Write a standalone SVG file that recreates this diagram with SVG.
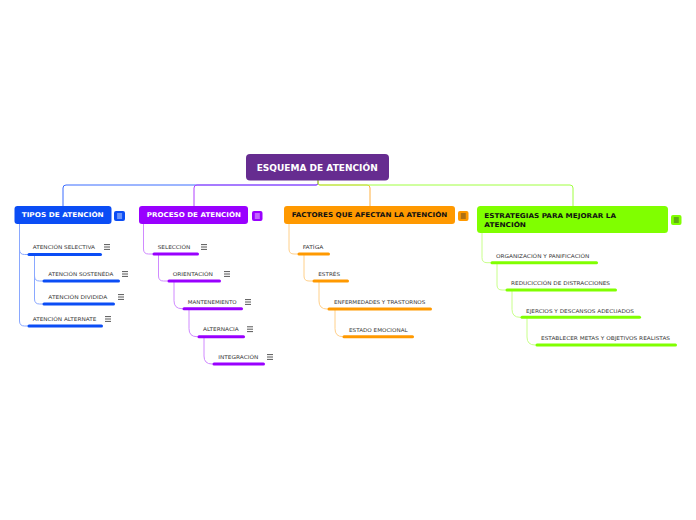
<svg xmlns="http://www.w3.org/2000/svg" xmlns:xlink="http://www.w3.org/1999/xlink" width="696" height="520" viewBox="0 0 696 520">
<style>
.hd{font-family:"DejaVu Sans","Liberation Sans",sans-serif;font-weight:bold;font-size:6.6px}
.rt{font-family:"DejaVu Sans","Liberation Sans",sans-serif;font-weight:bold;font-size:8.4px;fill:#fff}
.st{font-family:"DejaVu Sans","Liberation Sans",sans-serif;font-size:5.2px;fill:#333}
.c{fill:none;stroke-width:1}
.bar{stroke-width:3;stroke-linecap:round}
.hm{stroke:#444;stroke-width:0.9}
.hw{stroke:#fff;stroke-width:0.8}
.hk{stroke:#333;stroke-width:0.8}
</style>
<defs>
<g id="ham"><line x1="0" y1="0" x2="6" y2="0"/><line x1="0" y1="2.4" x2="6" y2="2.4"/><line x1="0" y1="4.8" x2="6" y2="4.8"/></g>
<g id="hamb"><line x1="2.6" y1="3" x2="7.6" y2="3"/><line x1="2.6" y1="5" x2="7.6" y2="5"/><line x1="2.6" y1="7" x2="7.6" y2="7"/></g>
</defs>
<rect width="696" height="520" fill="#fff"/>
<g id="connectors">
<path class="c" stroke="#3a6cff" d="M318,180 V183 Q318,185 316,185 H66 Q63,185 63,188 V206"/>
<path class="c" stroke="#b040ff" d="M318,180 V183 Q318,185 316,185 H197 Q194,185 194,188 V206"/>
<path class="c" stroke="#ffb040" d="M318,180 V183 Q318,185 320,185 H367 Q370,185 370,188 V206"/>
<path class="c" stroke="#a0ff40" d="M318,180 V183 Q318,185 320,185 H570 Q573,185 573,188 V206"/>
<g stroke="#8aa8ff">
<path class="c" d="M19.5,224 V249.5 Q19.5,254.5 24.5,254.5 H28"/>
<path class="c" d="M19.5,224 V321 Q19.5,326 24.5,326 H28"/>
<path class="c" d="M34.5,255 V276 Q34.5,281 39.5,281 H43"/>
<path class="c" d="M34.5,255 V299 Q34.5,304 39.5,304 H43"/>
</g>
<g stroke="#d08aff">
<path class="c" d="M143.5,224 V249 Q143.5,254 148.5,254 H153"/>
<path class="c" d="M158.5,255 V276 Q158.5,281 163.5,281 H168"/>
<path class="c" d="M174,282 V300.7 Q174,308.7 182,308.7 H183"/>
<path class="c" d="M189,310 V328.7 Q189,336.7 197,336.7 H198"/>
<path class="c" d="M204,338 V356 Q204,364 212,364 H213"/>
</g>
<g stroke="#ffd08a">
<path class="c" d="M289,224 V249 Q289,254 294,254 H298"/>
<path class="c" d="M304,255 V276 Q304,281 309,281 H313"/>
<path class="c" d="M319,282 V301 Q319,309 327,309 H328"/>
<path class="c" d="M335,310 V328.7 Q335,336.7 343,336.7"/>
</g>
<g stroke="#c8ff8a">
<path class="c" d="M482,233 V257.7 Q482,262.7 487,262.7 H491"/>
<path class="c" d="M497,264 V285 Q497,290 502,290 H506"/>
<path class="c" d="M512,291 V309.3 Q512,317.3 520,317.3 H521"/>
<path class="c" d="M527,318 V337 Q527,345 535,345 H536"/>
</g>
</g>
<g id="root">
<rect x="246" y="154" width="143" height="26.5" rx="4" fill="#662c90"/>
<text class="rt" x="256.7" y="171" textLength="121" lengthAdjust="spacingAndGlyphs">ESQUEMA DE ATENCIÓN</text>
</g>
<g id="tipos">
<rect x="14.5" y="206" width="97" height="18" rx="3" fill="#0b4df5"/>
<text class="hd" fill="#fff" x="21.7" y="217.4" textLength="82" lengthAdjust="spacingAndGlyphs">TIPOS DE ATENCIÓN</text>
<rect x="114" y="211" width="11" height="10" rx="2" fill="#0b4df5"/>
<use xlink:href="#hamb" class="hw" x="114.5" y="211"/>
</g>
<g id="t1">
<text class="st" x="32.7" y="248.6" textLength="62.3" lengthAdjust="spacingAndGlyphs">ATENCIÓN SELECTIVA</text>
<line class="bar" stroke="#0b4df5" x1="29" y1="254.5" x2="100.5" y2="254.5"/>
<use xlink:href="#ham" class="hm" x="104" y="244.6"/>
</g>
<g id="t2">
<text class="st" x="48.3" y="275.6" textLength="65" lengthAdjust="spacingAndGlyphs">ATENCIÓN SOSTENÉDA</text>
<line class="bar" stroke="#0b4df5" x1="44" y1="281" x2="118.5" y2="281"/>
<use xlink:href="#ham" class="hm" x="122" y="271.6"/>
</g>
<g id="t3">
<text class="st" x="48.3" y="299" textLength="59" lengthAdjust="spacingAndGlyphs">ATENCIÓN DIVIDIDA</text>
<line class="bar" stroke="#0b4df5" x1="44" y1="304" x2="113.5" y2="304"/>
<use xlink:href="#ham" class="hm" x="118" y="294.6"/>
</g>
<g id="t4">
<text class="st" x="32.7" y="320.6" textLength="63.6" lengthAdjust="spacingAndGlyphs">ATENCIÓN ALTERNATE</text>
<line class="bar" stroke="#0b4df5" x1="29" y1="326" x2="101.5" y2="326"/>
<use xlink:href="#ham" class="hm" x="105" y="316.6"/>
</g>
<g id="proceso">
<rect x="139" y="206" width="109" height="18" rx="3" fill="#9900ff"/>
<text class="hd" fill="#fff" x="146.7" y="217.4" textLength="94.3" lengthAdjust="spacingAndGlyphs">PROCESO DE ATENCIÓN</text>
<rect x="252" y="211" width="10.5" height="10" rx="2" fill="#9900ff"/>
<use xlink:href="#hamb" class="hw" x="252.2" y="211"/>
</g>
<g id="p1">
<text class="st" x="157.7" y="248.6" textLength="32.7" lengthAdjust="spacingAndGlyphs">SELECCIÓN</text>
<line class="bar" stroke="#9900ff" x1="154" y1="254" x2="197.5" y2="254"/>
<use xlink:href="#ham" class="hm" x="201" y="244.6"/>
</g>
<g id="p2">
<text class="st" x="172.7" y="275.6" textLength="40.3" lengthAdjust="spacingAndGlyphs">ORIENTACIÓN</text>
<line class="bar" stroke="#9900ff" x1="169" y1="281" x2="219.5" y2="281"/>
<use xlink:href="#ham" class="hm" x="224" y="271.6"/>
</g>
<g id="p3">
<text class="st" x="187.7" y="303.6" textLength="49" lengthAdjust="spacingAndGlyphs">MANTENEMIENTO</text>
<line class="bar" stroke="#9900ff" x1="184" y1="308.7" x2="241.5" y2="308.7"/>
<use xlink:href="#ham" class="hm" x="245" y="299.6"/>
</g>
<g id="p4">
<text class="st" x="203" y="331" textLength="35.7" lengthAdjust="spacingAndGlyphs">ALTERNACIA</text>
<line class="bar" stroke="#9900ff" x1="199" y1="336.7" x2="243.5" y2="336.7"/>
<use xlink:href="#ham" class="hm" x="247" y="326.8"/>
</g>
<g id="p5">
<text class="st" x="218.3" y="358.6" textLength="40" lengthAdjust="spacingAndGlyphs">INTEGRACIÓN</text>
<line class="bar" stroke="#9900ff" x1="214" y1="364" x2="263.5" y2="364"/>
<use xlink:href="#ham" class="hm" x="267" y="354.6"/>
</g>
<g id="factores">
<rect x="284" y="206" width="171" height="18" rx="3" fill="#ff9900"/>
<text class="hd" fill="#111" x="291.7" y="217.4" textLength="155.6" lengthAdjust="spacingAndGlyphs">FACTORES QUE AFECTAN LA ATENCIÓN</text>
<rect x="458" y="211" width="10.5" height="10" rx="2" fill="#ff9900"/>
<use xlink:href="#hamb" class="hk" x="458.2" y="211"/>
</g>
<g id="f1">
<text class="st" x="302.7" y="248.6" textLength="20.7" lengthAdjust="spacingAndGlyphs">FATÍGA</text>
<line class="bar" stroke="#ff9900" x1="299" y1="254" x2="328.5" y2="254"/>
</g>
<g id="f2">
<text class="st" x="318.3" y="275.6" textLength="21.7" lengthAdjust="spacingAndGlyphs">ESTRÉS</text>
<line class="bar" stroke="#ff9900" x1="314" y1="281" x2="347.5" y2="281"/>
</g>
<g id="f3">
<text class="st" x="334" y="303.6" textLength="91.3" lengthAdjust="spacingAndGlyphs">ENFERMEDADES Y TRASTORNOS</text>
<line class="bar" stroke="#ff9900" x1="329" y1="309" x2="430.5" y2="309"/>
</g>
<g id="f4">
<text class="st" x="349" y="331.6" textLength="58.7" lengthAdjust="spacingAndGlyphs">ESTADO EMOCIONAL</text>
<line class="bar" stroke="#ff9900" x1="344" y1="336.7" x2="412.5" y2="336.7"/>
</g>
<g id="estrategias">
<rect x="477" y="206" width="191" height="27" rx="3.5" fill="#80ff00"/>
<text class="hd" fill="#111" x="484.3" y="218.1" textLength="131.7" lengthAdjust="spacingAndGlyphs">ESTRATEGIAS PARA MEJORAR LA</text>
<text class="hd" fill="#111" x="484.3" y="226.8" textLength="41.7" lengthAdjust="spacingAndGlyphs">ATENCIÓN</text>
<rect x="671" y="215" width="10.5" height="10" rx="2" fill="#80ff00"/>
<use xlink:href="#hamb" class="hk" x="671.2" y="215"/>
</g>
<g id="e1">
<text class="st" x="496" y="257.6" textLength="93.3" lengthAdjust="spacingAndGlyphs">ORGANIZACIÓN Y PANIFICACIÓN</text>
<line class="bar" stroke="#80ff00" x1="492" y1="262.7" x2="596.5" y2="262.7"/>
</g>
<g id="e2">
<text class="st" x="511" y="284.6" textLength="99" lengthAdjust="spacingAndGlyphs">REDUCICCIÓN DE DISTRACCIONES</text>
<line class="bar" stroke="#80ff00" x1="507" y1="290" x2="615.5" y2="290"/>
</g>
<g id="e3">
<text class="st" x="526" y="312.6" textLength="108" lengthAdjust="spacingAndGlyphs">EJERCIOS Y DESCANSOS ADECUADOS</text>
<line class="bar" stroke="#80ff00" x1="522" y1="317.3" x2="639.5" y2="317.3"/>
</g>
<g id="e4">
<text class="st" x="541" y="339.6" textLength="129" lengthAdjust="spacingAndGlyphs">ESTABLECER METAS Y OBJETIVOS REALISTAS</text>
<line class="bar" stroke="#80ff00" x1="537" y1="345" x2="675.5" y2="345"/>
</g>
</svg>
